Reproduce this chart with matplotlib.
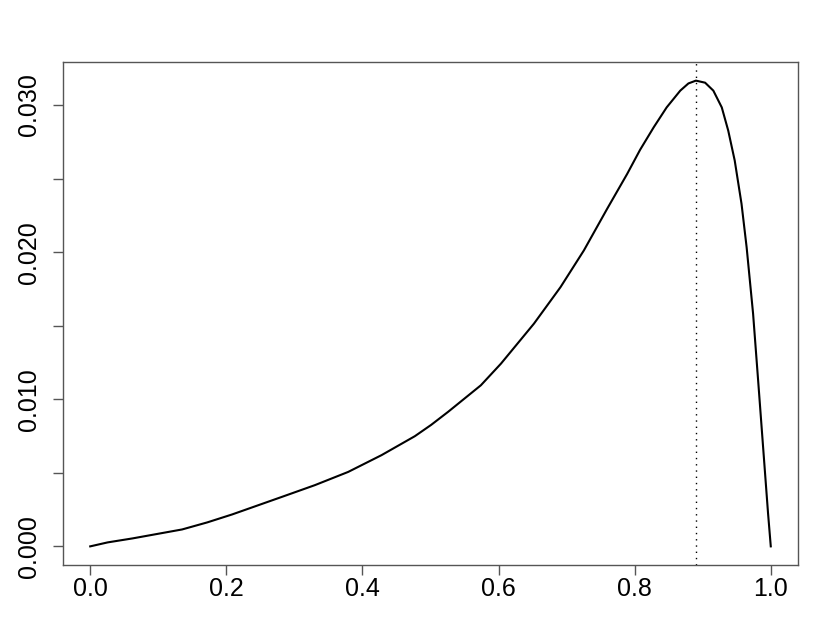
#!/usr/bin/env python3

import numpy as np
import matplotlib
matplotlib.use("Agg")
import matplotlib.pyplot as plt

# curve values
p = [0.0, 0.0256, 0.062, 0.135, 0.172, 0.2085, 0.282, 0.330, 0.379, 0.428,
     0.477, 0.501, 0.526, 0.574, 0.6035, 0.652, 0.691, 0.7254, 0.7596, 0.789,
     0.808, 0.828, 0.847, 0.867, 0.879, 0.890, 0.9035, 0.9156, 0.928, 0.9375,
     0.947, 0.957, 0.9645, 0.974, 0.9814, 0.9887, 0.996, 1.0]
dens = [0.0, 0.00027, 0.00054, 0.00115, 0.00163, 0.00217, 0.00337, 0.00416, 0.00506, 0.0062,
        0.00749, 0.00826, 0.00915, 0.01095, 0.01242, 0.01514, 0.01762, 0.02012, 0.02295, 0.02532,
        0.02696, 0.02849, 0.02984, 0.03098, 0.03147, 0.03166, 0.03152, 0.03098, 0.02984, 0.02826,
        0.02623, 0.02329, 0.02034, 0.01582, 0.01129, 0.00676, 0.00224, 0.0]
mode = 0.8905

xticks = [0.0, 0.2, 0.4, 0.6, 0.8, 1.0]
yticks = [0.0, 0.005, 0.010, 0.015, 0.020, 0.025, 0.030]
ylabels = ["0.000", "", "0.010", "", "0.020", "", "0.030"]

plt.rcParams["font.family"] = ["Liberation Sans", "DejaVu Sans"]

fig = plt.figure(figsize=(8.3, 6.42), dpi=100)
ax = fig.add_axes([63 / 830, 1 - 565 / 642, 735 / 830, 503 / 642])

ax.plot(p, dens, color="black", lw=1.5, solid_joinstyle="round")
ax.axvline(mode, color="black", lw=1.0, linestyle=(0, (1, 3.5)))

ymax = max(dens)
ax.set_xlim(-0.04, 1.04)
ax.set_ylim(-0.04 * ymax, 1.04 * ymax)

ax.set_xticks(xticks)
ax.set_xticklabels(["%.1f" % v for v in xticks])
ax.set_yticks(yticks)
ax.set_yticklabels(ylabels, rotation=90, va="center")

for s in ax.spines.values():
    s.set_color("#555555")
    s.set_linewidth(1.0)
ax.tick_params(axis="both", length=7, width=1.0, color="#555555", labelsize=18)
ax.tick_params(axis="x", pad=1.5)
ax.tick_params(axis="y", pad=8.5)

fig.savefig("out.png", dpi=100)
